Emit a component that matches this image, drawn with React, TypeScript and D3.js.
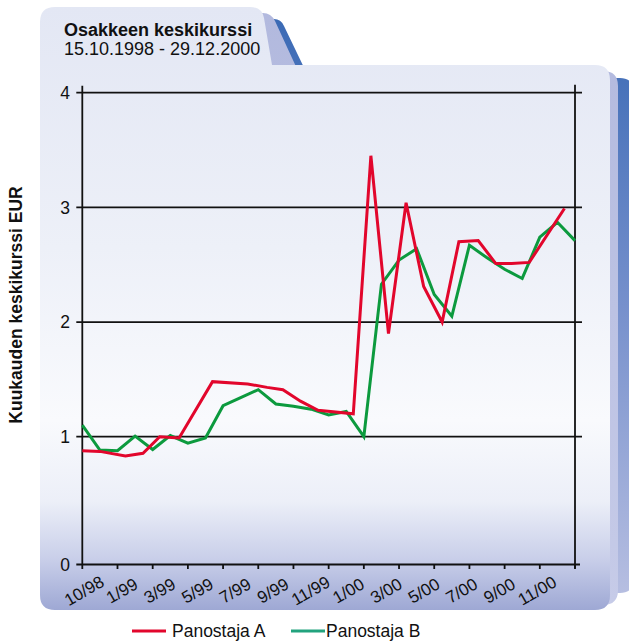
import React from 'react';
import * as d3 from 'd3';

const W = 629;
const H = 641;

const titleText = 'Osakkeen keskikurssi';
const subtitleText = '15.10.1998 - 29.12.2000';
const yAxisTitle = 'Kuukauden keskikurssi EUR';
const seriesNames = ['Panostaja A', 'Panostaja B'];

const xTickLabels = ['10/98', '1/99', '3/99', '5/99', '7/99', '9/99', '11/99', '1/00', '3/00', '5/00', '7/00', '9/00', '11/00'];
const xTickMonths = [0, 2, 4, 6, 8, 10, 12, 14, 16, 18, 20, 22, 24, 26, 28];
const yTicks = [0, 1, 2, 3, 4];

// month index, 0 = October 1998
const greenMonths = [0, 1, 2, 3, 4, 5, 6, 7, 8, 9, 10, 11, 12, 13, 14, 15, 16, 17, 18, 19, 20, 21, 22, 23, 24, 25, 26, 27, 28];
const greenValues = [1.1, 0.895, 0.89, 1.005, 0.9, 1.01, 0.95, 0.99, 1.27, 1.34, 1.41, 1.285, 1.265, 1.24, 1.19, 1.22, 1.0, 2.33, 2.54, 2.64, 2.24, 2.05, 2.67, 2.56, 2.46, 2.38, 2.74, 2.87, 2.71];

const redMonths = [0, 1, 2.45, 3.45, 4.4, 5.5, 7.4, 9.4, 10.5, 11.4, 12.4, 13.4, 15.4, 16.4, 17.4, 18.4, 19.4, 20.45, 21.4, 22.5, 23.5, 24.4, 25.4, 27.4];
const redValues = [0.89, 0.885, 0.85, 0.87, 1.0, 0.99, 1.48, 1.46, 1.43, 1.41, 1.31, 1.23, 1.2, 3.45, 1.9, 3.04, 2.31, 2.0, 2.7, 2.71, 2.51, 2.51, 2.52, 2.99];

const RED = '#e2062c';
const GREEN = '#0c9a3e';
const LEGEND_GREEN = '#22a37e';
const FONT = '"Liberation Sans", Arial, Helvetica, sans-serif';

export default function App() {
  const x = d3.scaleLinear().domain([0, 28]).range([82.3, 575]);
  const y = d3.scaleLinear().domain([0, 1, 4]).range([564.5, 436.7, 92.7]);
  const labelX = d3.scalePoint<string>().domain(xTickLabels).range([84, 537]);

  const line = d3
    .line<[number, number]>()
    .x((d) => x(d[0]))
    .y((d) => y(d[1]));

  const greenPts = greenMonths.map((m, i) => [m, greenValues[i]] as [number, number]);
  const redPts = redMonths.map((m, i) => [m, redValues[i]] as [number, number]);

  const x0 = x(0);
  const x1 = x(28);
  const yTop = y(4);
  const yBot = y(0);

  const frontPath =
    'M40,22 Q40,7 55,7 L250,7 Q262,7 264,18 L272,65 L595,65 Q610,65 610,80 L610,595 Q610,610 595,610 L55,610 Q40,610 40,595 Z';
  const lavPath =
    'M50,30 Q50,13 65,13 L263,13 Q271,13 275,21 L298,71 L603,71 Q618,71 618,86 L618,590 Q618,605 603,605 L65,605 Q50,605 50,590 Z';
  const bluePath =
    'M60,35 Q60,19 75,19 L274,19 Q281,19 284,26 L309,78 L620,78 Q633,78 633,91 L633,581 Q633,593 620,593 L75,593 Q60,593 60,580 Z';

  return (
    <svg width={W} height={H} style={{ display: 'block', position: 'absolute', left: 0, top: 0 }} fontFamily={FONT}>
      <defs>
        <linearGradient id="gFront" gradientUnits="userSpaceOnUse" x1="0" y1="7" x2="0" y2="610">
          <stop offset="0" stopColor="#e3e7f4" />
          <stop offset="0.4" stopColor="#edf0f8" />
          <stop offset="0.685" stopColor="#f9fafd" />
          <stop offset="0.82" stopColor="#eceff8" />
          <stop offset="0.917" stopColor="#c8cee9" />
          <stop offset="1" stopColor="#9ea8d4" />
        </linearGradient>
        <linearGradient id="gLav" gradientUnits="userSpaceOnUse" x1="0" y1="13" x2="0" y2="605">
          <stop offset="0" stopColor="#b2b9de" />
          <stop offset="1" stopColor="#c6cbe8" />
        </linearGradient>
        <linearGradient id="gBlue" gradientUnits="userSpaceOnUse" x1="0" y1="19" x2="0" y2="593">
          <stop offset="0" stopColor="#3b6ab5" />
          <stop offset="0.5" stopColor="#7690cc" />
          <stop offset="1" stopColor="#b6bee1" />
        </linearGradient>
      </defs>

      <rect x={0} y={0} width={W} height={H} fill="#ffffff" />
      <path d={bluePath} fill="url(#gBlue)" />
      <path d={lavPath} fill="url(#gLav)" />
      <path d={frontPath} fill="url(#gFront)" />

      <text x={64} y={36} fontSize={18} fontWeight="bold" fill="#111">
        {titleText}
      </text>
      <text x={64} y={55} fontSize={18} fill="#111">
        {subtitleText}
      </text>

      {/* grid lines */}
      {yTicks
        .filter((t) => t > 0)
        .map((t) => (
          <line key={'g' + t} x1={x0 - 6} x2={x1 + 7} y1={y(t)} y2={y(t)} stroke="#111" strokeWidth={1.8} />
        ))}
      {/* axes */}
      <line x1={x0} x2={x0} y1={yTop - 7} y2={yBot} stroke="#111" strokeWidth={1.8} />
      <line x1={x1} x2={x1} y1={yTop - 8} y2={yBot + 4} stroke="#111" strokeWidth={1.8} />
      <line x1={x0 - 6} x2={x1 + 5} y1={yBot} y2={yBot} stroke="#111" strokeWidth={1.8} />
      {xTickMonths.map((m) => (
        <line key={'xt' + m} x1={x(m)} x2={x(m)} y1={yBot} y2={yBot + 4.5} stroke="#111" strokeWidth={1.8} />
      ))}
      {yTicks.map((t) => (
        <text key={'yl' + t} x={70} y={y(t)} dy="0.36em" textAnchor="end" fontSize={17.5} fill="#111">
          {t}
        </text>
      ))}
      {xTickLabels.map((l) => (
        <text
          key={'xl' + l}
          transform={`translate(${labelX(l)},590.5) rotate(-30)`}
          textAnchor="middle"
          dy="0.36em"
          fontSize={17}
          fill="#111"
        >
          {l}
        </text>
      ))}

      <text transform="translate(21.5,305) rotate(-90)" textAnchor="middle" fontSize={17.5} fontWeight="bold" fill="#111">
        {yAxisTitle}
      </text>

      <path d={line(greenPts) || ''} fill="none" stroke={GREEN} strokeWidth={3} strokeLinejoin="miter" />
      <path d={line(redPts) || ''} fill="none" stroke={RED} strokeWidth={3} strokeLinejoin="miter" />

      {/* legend */}
      <line x1={132} x2={166} y1={631} y2={631} stroke={RED} strokeWidth={3} />
      <text x={172} y={637} fontSize={17.5} fill="#111">
        {seriesNames[0]}
      </text>
      <line x1={291} x2={325} y1={631} y2={631} stroke={LEGEND_GREEN} strokeWidth={3} />
      <text x={326} y={637} fontSize={17.5} fill="#111">
        {seriesNames[1]}
      </text>
    </svg>
  );
}
